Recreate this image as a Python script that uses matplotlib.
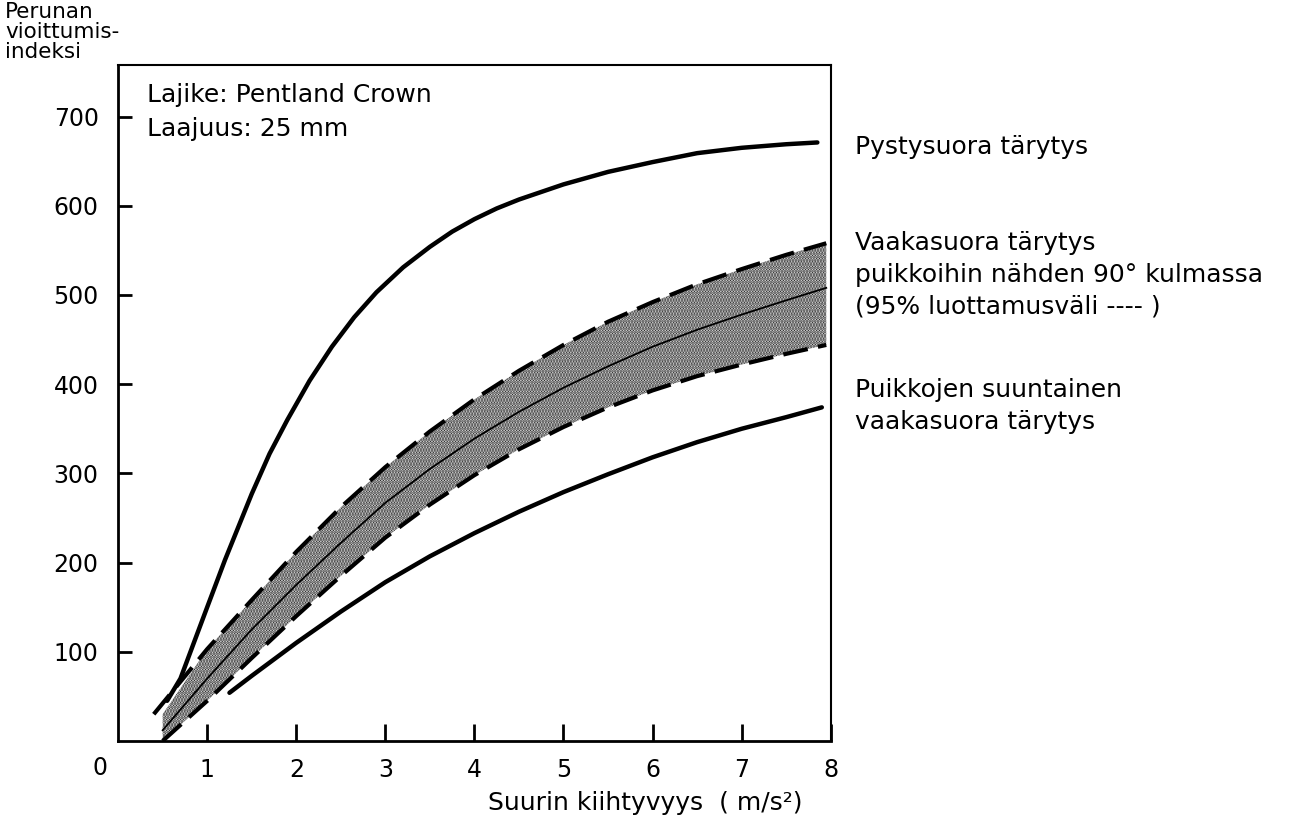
import matplotlib.pyplot as plt

plt.rcParams['font.family'] = ['DejaVu Sans']
plt.rcParams['hatch.linewidth'] = 1.6

# Pystysuora tärytys
x_vert = [0.55, 0.7, 0.85, 1.0, 1.2, 1.5, 1.7, 1.9, 2.15, 2.4, 2.65, 2.9, 3.2, 3.5, 3.75,
          4.0, 4.25, 4.5, 5.0, 5.5, 6.0, 6.5, 7.0, 7.5, 7.85]
y_vert = [45, 70, 110, 150, 203, 277, 322, 360, 404, 442, 475, 503, 531, 554, 571,
          585, 597, 607, 624, 638, 649, 659, 665, 669, 671]

# Vaakasuora tärytys 90° kulmassa + 95 % luottamusväli
x_band = [0.5, 1.0, 1.5, 2.0, 2.5, 3.0, 3.5, 4.0, 4.5, 5.0, 5.5, 6.0, 6.5, 7.0, 7.5, 7.95]
y_mid = [12, 70, 125, 175, 222, 267, 305, 339, 369, 396, 420, 442, 461, 478, 494, 508]
y_upper = [30, 103, 158, 212, 262, 307, 347, 383, 415, 444, 470, 492, 512, 529, 545, 558]
y_lower = [0, 45, 93, 140, 185, 228, 265, 298, 327, 352, 374, 393, 409, 422, 434, 444]
x_upper = [0.4] + x_band[1:]

# Puikkojen suuntainen vaakasuora tärytys
x_along = [1.25, 1.5, 2.0, 2.5, 3.0, 3.5, 4.0, 4.5, 5.0, 5.5, 6.0, 6.5, 7.0, 7.5, 7.9]
y_along = [54, 73, 110, 145, 178, 207, 233, 257, 279, 299, 318, 335, 350, 363, 374]

xticks = [1, 2, 3, 4, 5, 6, 7, 8]
yticks = [100, 200, 300, 400, 500, 600, 700]

fig = plt.figure(figsize=(12.98, 8.21), dpi=100)
ax = fig.add_axes([0.091, 0.0975, 0.549, 0.8235])

ax.fill_between(x_band, y_lower, y_upper, facecolor='white', edgecolor='#222222',
                hatch='......', linewidth=0)
ax.plot(x_upper, y_upper, color='black', lw=3, ls=(0, (6, 2.5)), solid_capstyle='butt')
ax.plot(x_band, y_lower, color='black', lw=3, ls=(0, (6, 2.5)), solid_capstyle='butt')
ax.plot(x_band, y_mid, color='black', lw=1.3)
ax.plot(x_vert, y_vert, color='black', lw=3.2, solid_capstyle='round')
ax.plot(x_along, y_along, color='black', lw=3.2, solid_capstyle='round')

ax.set_xlim(0, 8)
ax.set_ylim(0, 758)
ax.set_xticks(xticks)
ax.set_yticks(yticks)
ax.tick_params(direction='in', width=2, labelsize=17)
ax.tick_params(axis='x', length=12, pad=12)
ax.tick_params(axis='y', length=10, pad=14)
for s in ax.spines.values():
    s.set_linewidth(2)
ax.spines['top'].set_linewidth(1.5)
ax.spines['right'].set_linewidth(1.5)

ax.annotate('0', (0, 0), xytext=(-18, -27), textcoords='offset pixels',
            ha='center', va='center', fontsize=17)

ax.text(0.04, 0.956, 'Lajike: Pentland Crown', transform=ax.transAxes,
        fontsize=18, va='center')
ax.text(0.04, 0.905, 'Laajuus: 25 mm', transform=ax.transAxes,
        fontsize=18, va='center')

fig.text(0.004, 0.997, 'Perunan\nvioittumis-\nindeksi', fontsize=15.5,
         va='top', ha='left', linespacing=1.0)

ax.set_xlabel('Suurin kiihtyvyys  ( m/s²)', fontsize=18, labelpad=7,
              x=0.74)

fig.text(0.659, 0.821, 'Pystysuora tärytys', fontsize=18, va='center')
fig.text(0.659, 0.7186, 'Vaakasuora tärytys\npuikkoihin nähden 90° kulmassa\n(95% luottamusväli ---- )',
         fontsize=18, va='top', linespacing=1.4)
fig.text(0.659, 0.5395, 'Puikkojen suuntainen\nvaakasuora tärytys',
         fontsize=18, va='top', linespacing=1.4)

fig.savefig('out.png', dpi=100)
